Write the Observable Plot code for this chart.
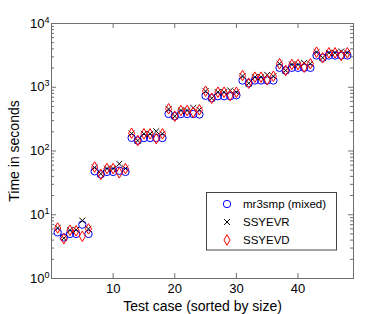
<!DOCTYPE html>
<html>
<head>
<meta charset="utf-8">
<script src="https://cdn.jsdelivr.net/npm/d3@7"></script>
<script src="https://cdn.jsdelivr.net/npm/@observablehq/plot@0.6"></script>
<style>
  html, body { margin: 0; padding: 0; background: white; }
  svg { display: block; }
</style>
</head>
<body>
<div id="chart"></div>
<script>
// ---- data ----
const testCases = d3.range(1, 49); // test case index 1..48
const mr3smp = [5.3,4.4,5.0,5.0,7.0,5.0, 48,43,47,47,49,47, 161,146,160,160,160,160, 382,351,380,380,380,374,
                735,673,724,724,724,750, 1276,1158,1276,1276,1276,1276, 2018,1832,2018,2018,2018,2018,
                3148,2897,3148,3148,3148,3148];
const ssyevr = [6.2,4.3,5.7,5.8,8.1,6.0, 55,44,53,53,63,53, 188,146,186,186,204,186, 455,351,432,432,475,443,
                867,673,836,836,890,836, 1500,1158,1438,1438,1567,1490, 2333,1832,2275,2275,2400,2333,
                3548,2897,3470,3470,3640,3470];
const ssyevd = [6.2,4.2,5.7,5.6,4.6,6.0, 56,43,53,53,45.5,53, 190,146,186,186,156,186, 460,351,432,432,405,443,
                867,673,836,836,743,836, 1528,1158,1438,1438,1310,1490, 2333,1832,2275,2275,2065,2333,
                3548,2897,3470,3470,3148,3470];
const seriesNames = ["mr3smp (mixed)", "SSYEVR", "SSYEVD"];
const xTicks = [10, 20, 30, 40];
const yMajor = [1, 10, 100, 1000, 10000];
const yMinor = yMajor.slice(0, -1).flatMap(p => [2,3,4,5,6,7,8,9].map(k => k * p));

// ---- layout ----
const W = 390, H = 314, mL = 51, mR = 37, mT = 23, mB = 36;
const fw = W - mL - mR, fh = H - mT - mB;
const axisColor = "#6e6e6e";
const font = "'Liberation Sans', Arial, Helvetica, sans-serif";

const rows = s => testCases.map((t, i) => ({t, v: s[i]}));

const chart = Plot.plot({
  width: W, height: H,
  marginLeft: mL, marginRight: mR, marginTop: mT, marginBottom: mB,
  style: {fontFamily: font, fontSize: "13px", background: "white", color: "black"},
  x: {domain: [0, 49]},
  y: {type: "log", domain: [1, 1e4]},
  marks: [
    Plot.ruleX(xTicks, {stroke: axisColor, insetTop: fh - 5}),
    Plot.ruleX(xTicks, {stroke: axisColor, insetBottom: fh - 5}),
    Plot.ruleY(yMajor, {stroke: axisColor, insetRight: fw - 5}),
    Plot.ruleY(yMajor, {stroke: axisColor, insetLeft: fw - 5}),
    Plot.ruleY(yMinor, {stroke: axisColor, insetRight: fw - 3}),
    Plot.ruleY(yMinor, {stroke: axisColor, insetLeft: fw - 3}),
    Plot.frame({stroke: axisColor}),
    Plot.axisX({ticks: xTicks, tickSize: 0, tickPadding: 5, fontSize: 13,
      label: "Test case (sorted by size)", labelAnchor: "center", labelArrow: "none", labelOffset: 32}),
    Plot.axisY({ticks: yMajor, tickSize: 0, tickPadding: 2, fontSize: 13,
      tickFormat: d => `10^${Math.round(Math.log10(d))}`,
      label: "Time in seconds", labelAnchor: "center", labelArrow: "none", labelOffset: 42}),
    Plot.dot(rows(mr3smp), {x: "t", y: "v", symbol: "circle", r: 3.7, stroke: "#0000ff", strokeWidth: 1, fill: "none"}),
    Plot.dot(rows(ssyevr), {x: "t", y: "v", symbol: "times", r: 2.8, stroke: "black", strokeWidth: 1}),
    Plot.dot(rows(ssyevd), {x: "t", y: "v", symbol: "diamond", r: 3.2, stroke: "#ff0000", strokeWidth: 1, fill: "none"})
  ]
});

// superscript exponents on y tick labels
d3.select(chart).selectAll('g[aria-label="y-axis tick label"] text').each(function() {
  const t = d3.select(this);
  const [b, e] = t.text().split("^");
  t.text(b);
  t.append("tspan").attr("dy", "-0.55em").attr("font-size", "9px").text(e);
});
d3.select(chart).selectAll('g[aria-label="x-axis label"] text, g[aria-label="y-axis label"] text')
  .attr("font-size", "14px");

// legend
const svg = d3.select(chart);
const lg = svg.append("g").attr("font-family", font).attr("font-size", "11.5px").attr("text-anchor", "start");
lg.append("rect").attr("x", 206.5).attr("y", 192.5).attr("width", 130).attr("height", 57.5)
  .attr("fill", "white").attr("stroke", "#444");
const lrows = [
  {name: seriesNames[0], sym: d3.symbolCircle, size: Math.PI * 3.7 * 3.7, color: "#0000ff"},
  {name: seriesNames[1], sym: d3.symbolTimes, size: Math.PI * 2.8 * 2.8, color: "black"},
  {name: seriesNames[2], sym: d3.symbolDiamond, size: Math.PI * 3.2 * 3.2, color: "#ff0000"}
];
lrows.forEach((r, i) => {
  const y = 204 + i * 18;
  lg.append("path").attr("d", d3.symbol(r.sym, r.size)()).attr("transform", `translate(227,${y})`)
    .attr("fill", "none").attr("stroke", r.color).attr("stroke-width", 1);
  lg.append("text").attr("x", 243).attr("y", y).attr("dy", "0.35em").attr("text-anchor", "start")
    .attr("fill", "black").text(r.name);
});

document.getElementById("chart").appendChild(chart);
</script>
</body>
</html>
